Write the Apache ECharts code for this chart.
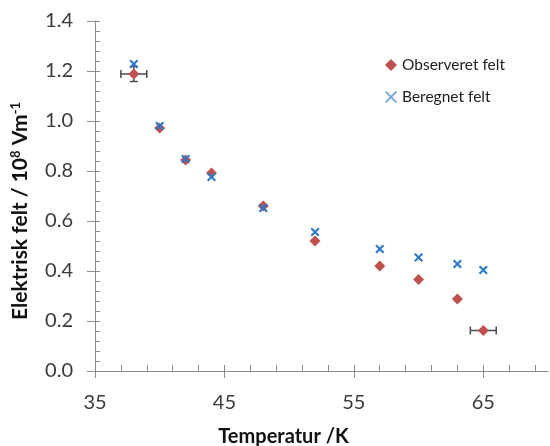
<!DOCTYPE html>
<html><head><meta charset="utf-8">
<script src="https://cdn.jsdelivr.net/npm/echarts@6/dist/echarts.min.js"></script>
<style>html,body{margin:0;padding:0;background:#fff}#c{width:550px;height:446px}</style>
</head><body><div id="c"></div>
<script>
const temps = [38, 40, 42, 44, 48, 52, 57, 60, 63, 65];
const observed = [1.188, 0.972, 0.844, 0.792, 0.66, 0.52, 0.42, 0.366, 0.288, 0.162];
const calculated = [1.228, 0.98, 0.848, 0.776, 0.652, 0.556, 0.488, 0.454, 0.428, 0.404];
const obsXErr = [1, 0, 0, 0, 0, 0, 0, 0, 0, 1];
const obsYErr = [0.03, 0, 0, 0, 0, 0, 0, 0, 0, 0];
const xTickLabels = [35, 45, 55, 65];
const xMinorTicks = [];
for (let v = 35; v <= 70; v += 2) xMinorTicks.push(v);

const RED = '#c0504d', BLUE = '#2a78cc', AX = '#8c8c8c', TXT = '#3a3a3a';
const FONT = 'Lato';
const crossPath = 'path://M0,1.6L1.6,0L5,3.4L8.4,0L10,1.6L6.6,5L10,8.4L8.4,10L5,6.6L1.6,10L0,8.4L3.4,5Z';
const crossThin = 'path://M1,0L5,4L9,0L10,1L6,5L10,9L9,10L5,6L1,10L0,9L4,5L0,1Z';
const G = {left: 95, top: 21, right: 2, bottom: 75};
const W = 550, H = 446;
const plotW = W - G.left - G.right, plotH = H - G.top - G.bottom;

const chart = echarts.init(document.getElementById('c'));
const errData = temps.map((t, i) => [t, observed[i], obsXErr[i], obsYErr[i]]);

chart.setOption({
  animation: false,
  grid: {left: G.left, top: G.top, right: G.right, bottom: G.bottom, containLabel: false, outerBoundsMode: 'none'},
  legend: {
    orient: 'vertical', left: 380, top: 52, itemGap: 16, itemWidth: 12, itemHeight: 12,
    textStyle: {fontFamily: FONT, fontSize: 15.5, color: '#222'},
    data: [{name: 'Observeret felt', icon: 'diamond'}, {name: 'Beregnet felt', icon: crossThin, itemStyle: {color: '#6fa3dc'}}]
  },
  xAxis: [{
    type: 'value', min: 35, max: 70, interval: 5, position: 'bottom',
    axisLine: {lineStyle: {color: AX, width: 1}},
    axisTick: {show: true, length: 7, customValues: xTickLabels, lineStyle: {color: AX}},
    axisLabel: {customValues: xTickLabels, margin: 22, fontFamily: FONT, fontSize: 20, color: TXT},
    splitLine: {show: false},
    name: 'Temperatur /K', nameLocation: 'middle', nameGap: 56,
    nameTextStyle: {fontFamily: FONT, fontSize: 20, fontWeight: 'bold', color: '#111', padding: [0, 76, 0, 0]}
  }, {
    type: 'value', min: 35, max: 70, interval: 5, position: 'top', offset: -plotH,
    axisLine: {show: false},
    axisTick: {show: true, inside: false, length: 6, customValues: xMinorTicks, lineStyle: {color: AX, width: 1}},
    axisLabel: {show: false}, splitLine: {show: false}
  }],
  yAxis: [{
    type: 'value', min: 0, max: 1.4, interval: 0.2, position: 'left',
    axisLine: {show: true, lineStyle: {color: AX, width: 1}},
    axisTick: {show: true, length: 8, lineStyle: {color: AX}},
    axisLabel: {margin: 22, fontFamily: FONT, fontSize: 20, color: TXT, formatter: v => v.toFixed(1)},
    splitLine: {show: false},
    name: '{b|Elektrisk felt / 10}{s|8}{b| Vm}{s|-1}', nameLocation: 'middle', nameGap: 64, nameRotate: 90,
    nameTextStyle: {
      padding: [0, 30, 0, 0],
      rich: {
        b: {fontFamily: FONT, fontSize: 21, fontWeight: 'bold', color: '#111', verticalAlign: 'bottom'},
        s: {fontFamily: FONT, fontSize: 13, fontWeight: 'bold', color: '#111', verticalAlign: 'top', padding: [0, 0, 9, 0]}
      }
    }
  }, {
    type: 'value', min: 0, max: 1.4, interval: 0.2, position: 'right', offset: -plotW,
    axisLine: {show: false},
    axisTick: {show: true, inside: false, length: 5, lineStyle: {color: AX}},
    minorTick: {show: true, splitNumber: 5, length: 5, lineStyle: {color: AX, width: 1}},
    axisLabel: {show: false}, splitLine: {show: false}
  }],
  series: [{
    type: 'custom', name: 'err', xAxisIndex: 0, yAxisIndex: 0, z: 1,
    data: errData,
    renderItem: function (params, api) {
      const x = api.value(0), y = api.value(1), ex = api.value(2), ey = api.value(3);
      const children = [];
      const st = {stroke: '#4a4a4a', lineWidth: 1.5};
      const cap = 4;
      if (ex > 0) {
        const a = api.coord([x - ex, y]), b = api.coord([x + ex, y]);
        children.push({type: 'line', shape: {x1: a[0], y1: a[1], x2: b[0], y2: b[1]}, style: st});
        children.push({type: 'line', shape: {x1: a[0], y1: a[1] - cap, x2: a[0], y2: a[1] + cap}, style: st});
        children.push({type: 'line', shape: {x1: b[0], y1: b[1] - cap, x2: b[0], y2: b[1] + cap}, style: st});
      }
      if (ey > 0) {
        const a = api.coord([x, y - ey]), b = api.coord([x, y + ey]);
        children.push({type: 'line', shape: {x1: a[0], y1: a[1], x2: b[0], y2: b[1]}, style: st});
        children.push({type: 'line', shape: {x1: a[0] - cap, y1: a[1], x2: a[0] + cap, y2: a[1]}, style: st});
        children.push({type: 'line', shape: {x1: b[0] - cap, y1: b[1], x2: b[0] + cap, y2: b[1]}, style: st});
      }
      return {type: 'group', children: children};
    }
  }, {
    type: 'scatter', name: 'Observeret felt', xAxisIndex: 0, yAxisIndex: 0, symbol: 'diamond', symbolSize: 11, z: 3,
    itemStyle: {color: RED, opacity: 1},
    data: temps.map((t, i) => [t, observed[i]])
  }, {
    type: 'scatter', name: 'Beregnet felt', xAxisIndex: 0, yAxisIndex: 0, symbol: crossPath, symbolSize: 9, z: 4,
    itemStyle: {color: BLUE, opacity: 1},
    data: temps.map((t, i) => [t, calculated[i]])
  }, {
    type: 'scatter', name: 'ticks', xAxisIndex: 1, yAxisIndex: 1, silent: true, data: []
  }]
});
</script>
</body></html>
